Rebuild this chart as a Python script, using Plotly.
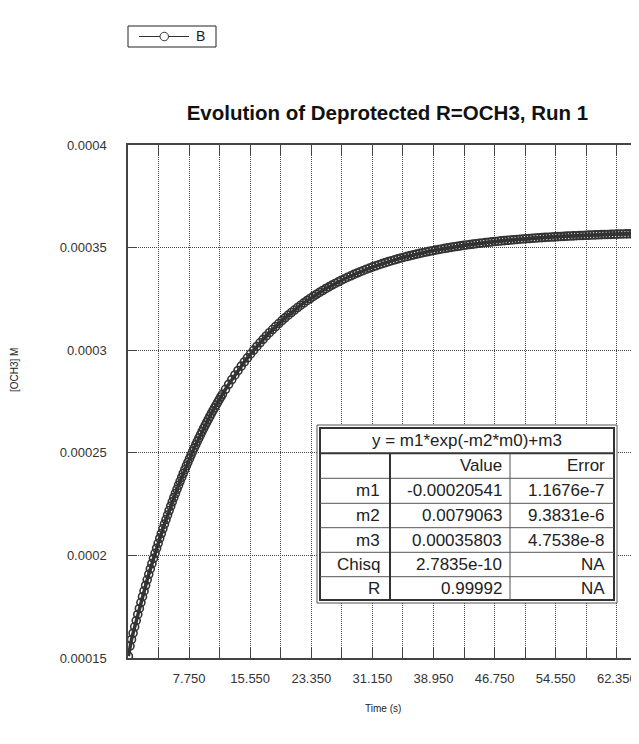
import plotly.graph_objects as go

# ---------------- data ----------------
time_early = [
    0.0, 0.2, 0.4, 0.6, 0.8, 1.0, 1.2, 1.4, 1.6, 1.8,
    2.0, 2.2, 2.4, 2.6, 2.8, 3.0, 3.2, 3.4, 3.6, 3.8,
    4.0, 4.2, 4.4, 4.6, 4.8, 5.0, 5.2, 5.4, 5.6, 5.8,
    6.0, 6.2, 6.4, 6.6, 6.8, 7.0, 7.2, 7.4, 7.6, 7.8,
    8.0, 8.2, 8.4, 8.6, 8.8, 9.0, 9.2, 9.4, 9.6, 9.8,
    10.0, 10.2, 10.4, 10.6, 10.8, 11.0, 11.2, 11.4, 11.6, 11.8,
    12.0,
]
conc_early_uM = [
    150.90, 155.84, 159.01, 162.13, 165.20, 168.23, 171.21, 174.14, 177.02, 179.86,
    182.66, 185.41, 188.12, 190.79, 193.41, 195.99, 198.53, 201.03, 203.49, 205.91,
    208.30, 210.65, 212.96, 215.24, 217.48, 219.68, 221.85, 223.99, 226.09, 228.16,
    230.20, 232.21, 234.18, 236.12, 238.03, 239.91, 241.76, 243.58, 245.38, 247.15,
    248.89, 250.60, 252.29, 253.95, 255.58, 257.19, 258.77, 260.33, 261.86, 263.37,
    264.85, 266.31, 267.75, 269.17, 270.56, 271.93, 273.28, 274.61, 275.92, 277.21,
    278.48,
]
time_late = [
    12.4, 12.8, 13.2, 13.6, 14.0, 14.4, 14.8, 15.2, 15.6, 16.0,
    16.4, 16.8, 17.2, 17.6, 18.0, 18.4, 18.8, 19.2, 19.6, 20.0,
    20.4, 20.8, 21.2, 21.6, 22.0, 22.4, 22.8, 23.2, 23.6, 24.0,
    24.4, 24.8, 25.2, 25.6, 26.0, 26.4, 26.8, 27.2, 27.6, 28.0,
    28.4, 28.8, 29.2, 29.6, 30.0, 30.4, 30.8, 31.2, 31.6, 32.0,
    32.4, 32.8, 33.2, 33.6, 34.0, 34.4, 34.8, 35.2, 35.6, 36.0,
    36.4, 36.8, 37.2, 37.6, 38.0, 38.4, 38.8, 39.2, 39.6, 40.0,
    40.4, 40.8, 41.2, 41.6, 42.0, 42.4, 42.8, 43.2, 43.6, 44.0,
    44.4, 44.8, 45.2, 45.6, 46.0, 46.4, 46.8, 47.2, 47.6, 48.0,
    48.4, 48.8, 49.2, 49.6, 50.0, 50.4, 50.8, 51.2, 51.6, 52.0,
    52.4, 52.8, 53.2, 53.6, 54.0, 54.4, 54.8, 55.2, 55.6, 56.0,
    56.4, 56.8, 57.2, 57.6, 58.0, 58.4, 58.8, 59.2, 59.6, 60.0,
    60.4, 60.8, 61.2, 61.6, 62.0, 62.4, 62.8, 63.2, 63.6, 64.0,
    64.4, 64.8, 65.2, 65.6, 66.0,
]
conc_late_uM = [
    280.96, 283.36, 285.68, 287.93, 290.11, 292.22, 294.27, 296.25, 298.17, 300.04,
    301.85, 303.60, 305.29, 306.93, 308.52, 310.06, 311.55, 313.00, 314.40, 315.76,
    317.08, 318.35, 319.58, 320.78, 321.94, 323.06, 324.15, 325.20, 326.22, 327.21,
    328.17, 329.10, 330.00, 330.87, 331.72, 332.54, 333.33, 334.10, 334.84, 335.56,
    336.26, 336.94, 337.60, 338.24, 338.86, 339.46, 340.04, 340.60, 341.14, 341.67,
    342.18, 342.67, 343.15, 343.61, 344.06, 344.49, 344.91, 345.32, 345.72, 346.10,
    346.47, 346.83, 347.18, 347.52, 347.85, 348.17, 348.48, 348.78, 349.07, 349.35,
    349.62, 349.88, 350.13, 350.38, 350.62, 350.85, 351.07, 351.29, 351.50, 351.70,
    351.90, 352.09, 352.27, 352.45, 352.62, 352.79, 352.95, 353.11, 353.26, 353.41,
    353.55, 353.69, 353.83, 353.96, 354.09, 354.21, 354.33, 354.44, 354.55, 354.66,
    354.77, 354.87, 354.97, 355.06, 355.15, 355.24, 355.33, 355.41, 355.49, 355.57,
    355.65, 355.72, 355.80, 355.87, 355.93, 356.00, 356.06, 356.12, 356.18, 356.24,
    356.30, 356.35, 356.40, 356.45, 356.50, 356.55, 356.60, 356.64, 356.68, 356.73,
    356.77, 356.81, 356.84, 356.88, 356.92,
]

x_tick_vals = [3.85, 7.75, 11.65, 15.55, 19.45, 23.35, 27.25, 31.15,
               35.05, 38.95, 42.85, 46.75, 50.65, 54.55, 58.45, 62.35]
x_tick_text = ["", "7.750", "", "15.550", "", "23.350", "", "31.150",
               "", "38.950", "", "46.750", "", "54.550", "", "62.350"]
y_tick_vals = [0.00015, 0.0002, 0.00025, 0.0003, 0.00035, 0.0004]
y_tick_text = ["0.00015", "0.0002", "0.00025", "0.0003", "0.00035", "0.0004"]

series_name = "B"
fit_title = "y = m1*exp(-m2*m0)+m3"
fit_header = ["", "Value", "Error"]
fit_rows = [
    ["m1", "-0.00020541", "1.1676e-7"],
    ["m2", "0.0079063", "9.3831e-6"],
    ["m3", "0.00035803", "4.7538e-8"],
    ["Chisq", "2.7835e-10", "NA"],
    ["R", "0.99992", "NA"],
]

times = time_early + time_late
conc = [v * 1e-6 for v in conc_early_uM + conc_late_uM]

# ---------------- layout geometry ----------------
# the page body has an 8px margin: figure coords = screen coords - 8
OFF = 8
FIG_W, FIG_H = 639 - OFF, 710
L, T, B = 128 - OFF, 145 - OFF, 658 - OFF
R = FIG_W
PW, PH = R - L, B - T
FONT = "Liberation Sans, Arial, Helvetica, sans-serif"
INK = "#333333"


def px(xs):  # screen x -> paper
    return (xs - OFF - L) / PW


def py(ys):  # screen y -> paper
    return (B - (ys - OFF)) / PH


fig = go.Figure()
fig.add_trace(go.Scatter(
    x=times, y=conc, mode="lines+markers", name=series_name,
    line=dict(color=INK, width=3.5),
    marker=dict(symbol="circle-open", size=8, color=INK, line=dict(width=1.6, color=INK)),
    cliponaxis=True, showlegend=False,
))

shapes = []
annotations = []

# legend box (drawn like the original's boxed key)
shapes.append(dict(type="rect", xref="paper", yref="paper",
                   x0=px(128), x1=px(216), y0=py(47), y1=py(26),
                   fillcolor="white", line=dict(color="#222222", width=1)))
shapes.append(dict(type="line", xref="paper", yref="paper",
                   x0=px(139), x1=px(189), y0=py(36.5), y1=py(36.5),
                   line=dict(color=INK, width=1)))
shapes.append(dict(type="circle", xref="paper", yref="paper",
                   x0=px(160), x1=px(168.5), y0=py(40.75), y1=py(32.25),
                   fillcolor="white", line=dict(color=INK, width=1)))
annotations.append(dict(xref="paper", yref="paper", x=px(194), y=py(36.5), text=series_name,
                        showarrow=False, xanchor="left", yanchor="middle",
                        font=dict(family=FONT, size=14, color="#222222")))

# stats table (screen px)
tx0, tx1, ty0, ty1 = 317, 617, 425, 603
ix0, ix1, iy0, iy1 = 320, 614, 428, 600
shapes.append(dict(type="rect", xref="paper", yref="paper",
                   x0=px(tx0), x1=px(tx1), y0=py(ty1), y1=py(ty0),
                   fillcolor="white", line=dict(color="#555555", width=1), layer="above"))
shapes.append(dict(type="rect", xref="paper", yref="paper",
                   x0=px(ix0), x1=px(ix1), y0=py(iy1), y1=py(iy0),
                   line=dict(color=INK, width=2), layer="above"))
row_edges = [453.3, 478.3, 503.3, 527.7, 552.3, 576.7, 600]
for i, yy in enumerate(row_edges[:-1]):
    shapes.append(dict(type="line", xref="paper", yref="paper",
                       x0=px(ix0), x1=px(ix1), y0=py(yy), y1=py(yy),
                       line=dict(color=INK if i == 0 else "#555555", width=2 if i == 0 else 1),
                       layer="above"))
col_edges = [390, 510]
for j, xx in enumerate(col_edges):
    shapes.append(dict(type="line", xref="paper", yref="paper",
                       x0=px(xx), x1=px(xx), y0=py(row_edges[0]), y1=py(iy1),
                       line=dict(color=INK if j == 0 else "#555555", width=2 if j == 0 else 1),
                       layer="above"))

TFS = 17
annotations.append(dict(xref="paper", yref="paper", x=px((ix0 + ix1) / 2), y=py((iy0 + row_edges[0]) / 2),
                        text=fit_title, showarrow=False, xanchor="center", yanchor="middle",
                        font=dict(family=FONT, size=TFS, color="#222222")))
col_right = [382, 504, 607]
all_rows = [fit_header] + fit_rows
for r, row in enumerate(all_rows):
    yc = (row_edges[r] + row_edges[r + 1]) / 2
    for c, txt in enumerate(row):
        if not txt:
            continue
        annotations.append(dict(xref="paper", yref="paper", x=px(col_right[c]), y=py(yc),
                                text=txt, showarrow=False, xanchor="right", yanchor="middle",
                                font=dict(family=FONT, size=TFS, color="#222222")))

# axis titles
annotations.append(dict(xref="paper", yref="paper", x=px(383), y=py(708), text="Time (s)",
                        showarrow=False, xanchor="center", yanchor="middle",
                        font=dict(family=FONT, size=10, color="#222222")))
annotations.append(dict(xref="paper", yref="paper", x=px(OFF + 6), y=py(370), text="[OCH3] M",
                        showarrow=False, xanchor="center", yanchor="middle", textangle=-90,
                        font=dict(family=FONT, size=10, color="#222222")))

fig.update_layout(
    width=FIG_W, height=FIG_H,
    margin=dict(l=L, r=FIG_W - R, t=T, b=FIG_H - B, pad=0),
    paper_bgcolor="white", plot_bgcolor="white",
    font=dict(family=FONT, color="#222222"),
    title=dict(text="<b>Evolution of Deprotected R=OCH3, Run 1</b>",
               xref="container", yref="container",
               x=(387.4 - OFF) / FIG_W, y=1 - (113 - OFF) / FIG_H,
               xanchor="center", yanchor="middle",
               font=dict(family=FONT, size=20.5, color="#111111")),
    showlegend=False,
    shapes=shapes,
    annotations=annotations,
)

fig.update_xaxes(
    range=[-0.05, -0.05 + PW / 7.833],
    tickmode="array", tickvals=x_tick_vals, ticktext=x_tick_text,
    ticks="inside", ticklen=10, tickwidth=1, tickcolor="#444444",
    showline=True, linecolor="#444444", linewidth=1.5, mirror="ticks",
    showgrid=True, gridcolor="#444444", griddash="1px,1px", gridwidth=1,
    zeroline=False, ticklabelstandoff=8, automargin=False,
    tickfont=dict(family=FONT, size=13, color="#333333"),
)
fig.update_yaxes(
    range=[0.00015, 0.0004],
    tickmode="array", tickvals=y_tick_vals, ticktext=y_tick_text,
    ticks="inside", ticklen=9, tickwidth=1, tickcolor="#444444",
    showline=True, linecolor="#444444", linewidth=1.5, mirror=False,
    showgrid=True, gridcolor="#444444", griddash="1px,1px", gridwidth=1,
    zeroline=False, ticklabelstandoff=17, automargin=False,
    tickfont=dict(family=FONT, size=13, color="#333333"),
)

fig.write_html("out.html")
